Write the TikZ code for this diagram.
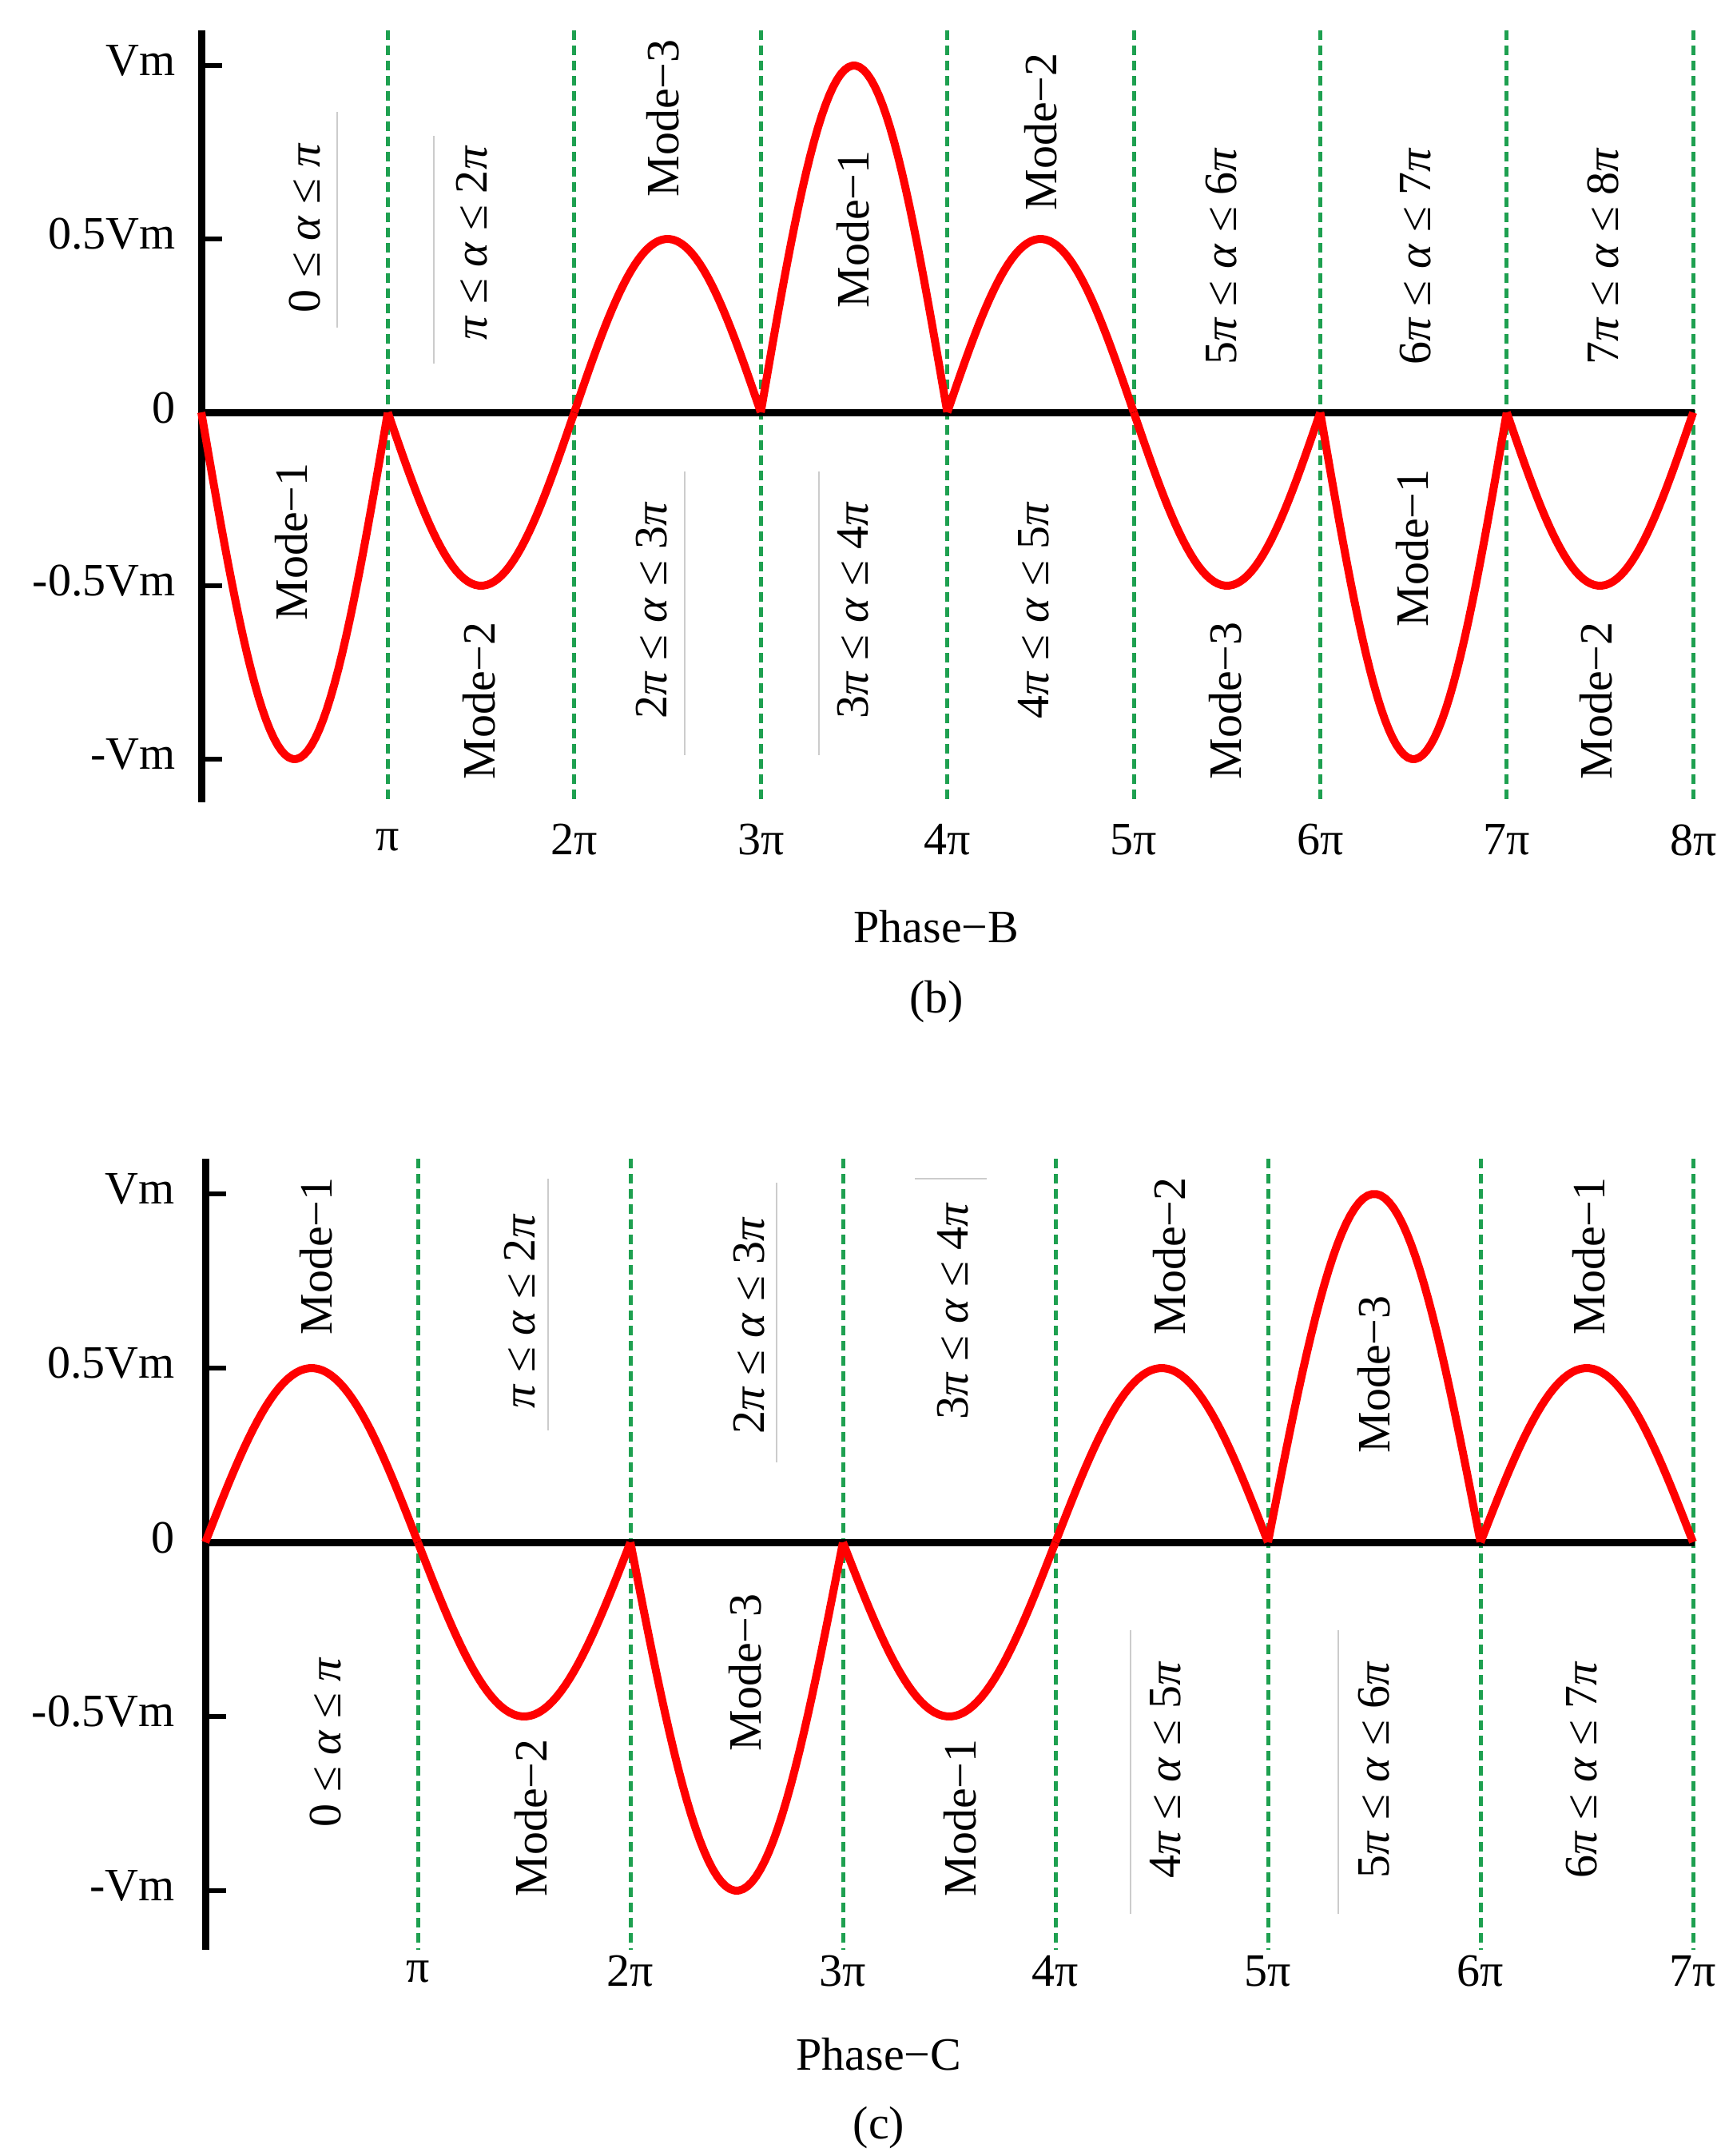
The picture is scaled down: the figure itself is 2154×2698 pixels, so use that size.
\documentclass[tikz,border=0pt]{standalone}
\usepackage{fontspec}
\setmainfont{Liberation Serif}
\newcommand{\al}{\textit{α}}
\newcommand{\pii}{\textit{π}}
\begin{document}
\begin{tikzpicture}[x=1pt,y=-1pt,
  axisline/.style={line width=9pt,black},
  wave/.style={line width=10pt,red,line join=round},
  divider/.style={line width=5pt,color={rgb,255:red,30;green,160;blue,80},dash pattern=on 12pt off 7pt},
  lbl/.style={rotate=90,font=\fontsize{58}{60}\selectfont,inner sep=0pt},
  tick/.style={font=\fontsize{58}{60}\selectfont,inner sep=0pt},
  ylab/.style={font=\fontsize{58}{60}\selectfont,inner sep=0pt,anchor=east},
  faint/.style={line width=1.5pt,gray!40}]
\useasboundingbox (0,0) rectangle (2154,2698);
% ===== Phase-B =====
\def\xo{252}\def\yo{516}\def\A{434}\def\P{233.4}
\foreach \k in {1,...,8} \draw[divider] ({\xo+\k*\P},38) -- ({\xo+\k*\P},1004);
\coordinate (bt) at (\xo,38); \coordinate (bb) at (\xo,1004);
\coordinate (bz0) at (\xo,\yo); \coordinate (bz1) at (2121,\yo);
\draw[axisline] (bz0) -- (bz1);
\draw[axisline] (bt) -- (bb);
\foreach \v/\t [count=\i] in {1/Vm,0.5/0.5Vm,0/0,-0.5/-0.5Vm,-1/-Vm}{
  \draw[line width=6pt] (\xo,{\yo-\v*\A}) -- ({\xo+26},{\yo-\v*\A});
  \node[ylab] (by\i) at ({\xo-32},{\yo-\v*\A-6}) {\t};}
\foreach \s [count=\k from 0] in {-1,-0.5,0.5,1,0.5,-0.5,-1,-0.5}
  \draw[wave] plot[domain=0:1,samples=50] ({\xo+(\k+\x)*\P},{\yo-\s*\A*sin(\x*180)});
\foreach \t [count=\k] in {π,2π,3π,4π,5π,6π,7π,8π}
  \node[tick] (bx\k) at ({\xo+\k*\P},1051) {\t};
\node[tick] (bph) at (1172,1160) {Phase−B};
\node[tick] (bcap) at (1172,1254) {(b)};
\node[lbl] (b1) at (382,285) {0 ≤ \al{} ≤ \pii};
\node[lbl] (b2) at (591,304) {\pii{} ≤ \al{} ≤ 2\pii};
\draw[faint] (422,140) -- (422,410);
\draw[faint] (543,170) -- (543,455);
\node[lbl] (b3) at (830,148) {Mode−3};
\node[lbl] (b4) at (1068,287) {Mode−1};
\node[lbl] (b5) at (1303,165) {Mode−2};
\node[lbl] (b6) at (1529,321) {5\pii{} ≤ \al{} ≤ 6\pii};
\node[lbl] (b7) at (1772,321) {6\pii{} ≤ \al{} ≤ 7\pii};
\node[lbl] (b8) at (2006,321) {7\pii{} ≤ \al{} ≤ 8\pii};
\node[lbl] (b9) at (365,678) {Mode−1};
\node[lbl] (b10) at (600,877) {Mode−2};
\node[lbl] (b11) at (816,764) {2\pii{} ≤ \al{} ≤ 3\pii};
\draw[faint] (857,590) -- (857,945);
\node[lbl] (b12) at (1068,764) {3\pii{} ≤ \al{} ≤ 4\pii};
\draw[faint] (1025,590) -- (1025,945);
\node[lbl] (b13) at (1294,764) {4\pii{} ≤ \al{} ≤ 5\pii};
\node[lbl] (b14) at (1534,877) {Mode−3};
\node[lbl] (b15) at (1768,686) {Mode−1};
\node[lbl] (b16) at (1998,877) {Mode−2};
% ===== Phase-C =====
\def\xo{257}\def\yo{1930}\def\A{436}\def\P{266}
\foreach \k in {1,...,7} \draw[divider] ({\xo+\k*\P},1450) -- ({\xo+\k*\P},2440);
\coordinate (ct) at (\xo,1450); \coordinate (cb) at (\xo,2440);
\coordinate (cz0) at (\xo,\yo); \coordinate (cz1) at (2121,\yo);
\draw[axisline] (cz0) -- (cz1);
\draw[axisline] (ct) -- (cb);
\foreach \v/\t [count=\i] in {1/Vm,0.5/0.5Vm,0/0,-0.5/-0.5Vm,-1/-Vm}{
  \draw[line width=6pt] (\xo,{\yo-\v*\A}) -- ({\xo+26},{\yo-\v*\A});
  \node[ylab] (cy\i) at ({\xo-38},{\yo-\v*\A-6}) {\t};}
\foreach \s [count=\k from 0] in {0.5,-0.5,-1,-0.5,0.5,1,0.5}
  \draw[wave] plot[domain=0:1,samples=50] ({\xo+(\k+\x)*\P},{\yo-\s*\A*sin(\x*180)});
\foreach \t [count=\k] in {π,2π,3π,4π,5π,6π,7π}
  \node[tick] (cx\k) at ({\xo+\k*\P},2467) {\t};
\node[tick] (cph) at (1100,2571) {Phase−C};
\node[tick] (ccap) at (1100,2663) {(c)};
\node[lbl] (c1) at (396,1572) {Mode−1};
\node[lbl] (c2) at (651,1641) {\pii{} ≤ \al{} ≤ 2\pii};
\draw[faint] (686,1475) -- (686,1790);
\node[lbl] (c3) at (938,1659) {2\pii{} ≤ \al{} ≤ 3\pii};
\draw[faint] (972,1480) -- (972,1830);
\node[lbl] (c4) at (1193,1641) {3\pii{} ≤ \al{} ≤ 4\pii};
\draw[faint] (1145,1475) -- (1235,1475);
\node[lbl] (c5) at (1464,1572) {Mode−2};
\node[lbl] (c6) at (1720,1720) {Mode−3};
\node[lbl] (c7) at (1989,1572) {Mode−1};
\node[lbl] (c8) at (408,2180) {0 ≤ \al{} ≤ \pii};
\node[lbl] (c9) at (665,2275) {Mode−2};
\node[lbl] (c10) at (933,2093) {Mode−3};
\node[lbl] (c11) at (1202,2275) {Mode−1};
\node[lbl] (c12) at (1459,2215) {4\pii{} ≤ \al{} ≤ 5\pii};
\draw[faint] (1415,2040) -- (1415,2395);
\node[lbl] (c13) at (1720,2215) {5\pii{} ≤ \al{} ≤ 6\pii};
\draw[faint] (1675,2040) -- (1675,2395);
\node[lbl] (c14) at (1980,2215) {6\pii{} ≤ \al{} ≤ 7\pii};
\end{tikzpicture}
\end{document}
